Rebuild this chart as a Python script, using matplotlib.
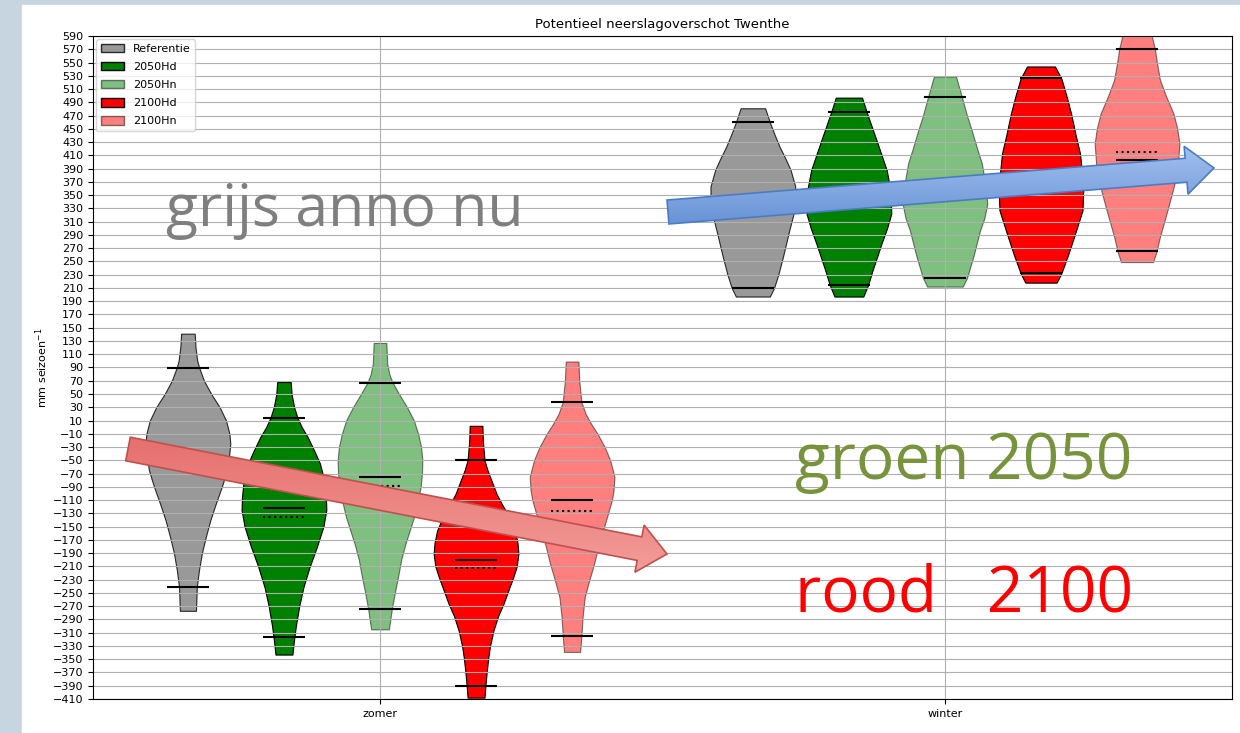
import numpy as np
import matplotlib
matplotlib.use('Agg')
import matplotlib.pyplot as plt
from matplotlib.patches import Patch, FancyArrow, Rectangle
from matplotlib.colors import LinearSegmentedColormap

seasons = ['zomer', 'winter']
scenarios = ['Referentie', '2050Hd', '2050Hn', '2100Hd', '2100Hn']
scenario_colors = ['grey', 'green', 'green', 'red', 'red']
scenario_alpha = [0.8, 1.0, 0.5, 1.0, 0.5]

# violin outlines: (mm per seizoen, relative width)
zomer_ref = [(141, .16), (120, .18), (100, .22), (89, .27), (70, .38), (50, .55), (30, .75),
             (10, .9), (-10, .98), (-25, 1.0), (-45, .97), (-65, .92), (-90, .8), (-115, .66),
             (-140, .53), (-166, .42), (-190, .33), (-216, .26), (-241, .21), (-277, .19)]
zomer_2050hd = [(68, .16), (50, .18), (30, .24), (14, .32), (0, .42), (-15, .56), (-35, .71),
                (-55, .85), (-80, .95), (-105, .99), (-125, 1.0), (-150, .93), (-180, .78),
                (-210, .61), (-241, .46), (-270, .36), (-300, .28), (-325, .23), (-343, .2)]
zomer_2050hn = [(127, .15), (96, .17), (80, .22), (67, .3), (50, .45), (30, .64), (10, .8),
                (-10, .9), (-30, .97), (-50, 1.0), (-70, .99), (-90, .96), (-115, .88),
                (-136, .8), (-156, .7), (-176, .6), (-200, .5), (-221, .44), (-250, .35),
                (-274, .28), (-305, .21)]
zomer_2100hd = [(2, .15), (-20, .16), (-50, .2), (-65, .27), (-80, .36), (-100, .48), (-115, .6),
                (-135, .78), (-156, .92), (-175, .98), (-191, 1.0), (-210, .96), (-226, .88),
                (-245, .77), (-266, .65), (-285, .52), (-307, .41), (-330, .33), (-347, .29),
                (-370, .25), (-391, .22), (-408, .2)]
zomer_2100hn = [(99, .15), (70, .17), (38, .22), (20, .32), (5, .45), (-10, .6), (-30, .77),
                (-50, .9), (-75, 1.0), (-95, .98), (-110, .94), (-130, .85), (-156, .73),
                (-180, .62), (-206, .52), (-230, .41), (-256, .3), (-285, .25), (-315, .22),
                (-339, .19)]

winter_ref = [(481, .29), (460, .4), (440, .52), (423, .63), (405, .77), (388, .89), (363, 1.0),
              (345, 1.0), (327, .98), (297, .86), (257, .71), (230, .6), (210, .5), (197, .4)]
winter_2050hd = [(497, .31), (475, .42), (433, .65), (388, .89), (358, .98), (322, 1.0),
                 (300, .9), (277, .77), (237, .56), (214, .45), (197, .34)]
winter_2050hn = [(529, .26), (498, .4), (470, .52), (448, .63), (420, .76), (398, .87),
                 (368, .95), (337, 1.0), (315, .93), (297, .83), (257, .67), (225, .52),
                 (212, .42)]
winter_2100hd = [(544, .33), (526, .48), (500, .6), (473, .71), (440, .82), (413, .92),
                 (363, 1.0), (327, .98), (287, .78), (260, .64), (232, .48), (218, .37)]
winter_2100hn = [(592, .34), (571, .42), (550, .47), (524, .54), (500, .68), (473, .86),
                 (450, .95), (428, 1.0), (383, .95), (332, .74), (287, .54), (265, .46),
                 (249, .38)]

# 5% / 95% lines, median (solid) and mean (dotted)
zomer_q_low = [-241, -317, -274, -391, -315]
zomer_q_high = [89, 14, 67, -50, 38]
zomer_median = [-48, -122, -75, -201, -110]
zomer_mean = [-62, -136, -88, -212, -126]
winter_q_low = [210, 214, 225, 232, 265]
winter_q_high = [460, 475, 498, 526, 571]
winter_median = [332, 342, 352, 370, 403]
winter_mean = [326, 336, 346, 362, 415]


def make_stats(profile, q_lo, q_hi, med, mean):
    prof = sorted(profile)
    coords = np.array([p[0] for p in prof], dtype=float)
    vals = np.array([p[1] for p in prof], dtype=float)
    return dict(coords=coords, vals=vals, mean=mean, median=med,
                min=coords[0], max=coords[-1], quantiles=[q_lo, q_hi])


profiles = [
    [zomer_ref, zomer_2050hd, zomer_2050hn, zomer_2100hd, zomer_2100hn],
    [winter_ref, winter_2050hd, winter_2050hn, winter_2100hd, winter_2100hn],
]
q_low = [zomer_q_low, winter_q_low]
q_high = [zomer_q_high, winter_q_high]
medians = [zomer_median, winter_median]
means = [zomer_mean, winter_mean]

stats, positions, colors, alphas = [], [], [], []
offset = 0.17
for s in range(len(seasons)):
    for k in range(len(scenarios)):
        stats.append(make_stats(profiles[s][k], q_low[s][k], q_high[s][k],
                                medians[s][k], means[s][k]))
        positions.append(s + (k - 2) * offset)
        colors.append(scenario_colors[k])
        alphas.append(scenario_alpha[k])

fig = plt.figure(figsize=(12.4, 7.33), dpi=100)

# slide background
bg = fig.add_axes([0, 0, 1, 1], zorder=0)
bg.set_xlim(0, 1240)
bg.set_ylim(733, 0)
bg.axis('off')
bg.add_patch(Rectangle((0, 0), 1240, 733, color='#c6d5e0'))
bg.add_patch(Rectangle((22, 5), 1218, 728, color='white'))

ax = fig.add_axes([0.075, 0.0464, 0.9185, 0.9045], zorder=1)
parts = ax.violin(stats, positions=positions, widths=0.15, showmeans=True,
                  showextrema=False, showmedians=True)
for body, c, a in zip(parts['bodies'], colors, alphas):
    body.set_facecolor(c)
    body.set_edgecolor('black')
    body.set_linewidth(0.8)
    body.set_alpha(a)
parts['cmedians'].set_color('black')
parts['cquantiles'].set_color('black')
parts['cmeans'].set_color('black')
parts['cmeans'].set_linestyle(':')

ax.set_xlim(-0.508, 1.508)
ax.set_ylim(-410, 590)
ax.set_xticks([0, 1])
ax.set_xticklabels(seasons)
ax.set_yticks(np.arange(-410, 591, 20))
ax.tick_params(labelsize=8)
ax.grid(True, color='#b0b0b0', linewidth=0.8)
ax.set_ylabel('mm seizoen$^{-1}$', fontsize=8, labelpad=2)
ax.set_title('Potentieel neerslagoverschot Twenthe', fontsize=9.5)

handles = [Patch(facecolor=c, edgecolor='black', alpha=a, label=l)
           for c, a, l in zip(scenario_colors, scenario_alpha, scenarios)]
ax.legend(handles=handles, loc='upper left', fontsize=8, labelspacing=0.72,
          handlelength=2.1, handleheight=0.8, borderaxespad=0.3)

# annotations on top of the chart
ov = fig.add_axes([0, 0, 1, 1], zorder=3)
ov.patch.set_alpha(0)


def gradient_arrow(axo, tail, tip, top_color, bottom_color, edge):
    arr = FancyArrow(tail[0], tail[1], tip[0] - tail[0], tip[1] - tail[1], width=24,
                     head_width=48, head_length=28, length_includes_head=True,
                     facecolor='none', edgecolor=edge, linewidth=1.2, zorder=5)
    axo.add_patch(arr)
    cmap = LinearSegmentedColormap.from_list('fill', [top_color, bottom_color])
    grad = np.linspace(0, 1, 64).reshape(-1, 1)
    x0, x1 = min(tail[0], tip[0]) - 30, max(tail[0], tip[0]) + 30
    y0, y1 = min(tail[1], tip[1]) - 30, max(tail[1], tip[1]) + 30
    im = axo.imshow(grad, cmap=cmap, extent=(x0, x1, y1, y0), aspect='auto', zorder=4)
    im.set_clip_path(arr)


gradient_arrow(ov, (128, 449), (667, 554), '#e46a68', '#f4a09d', '#c0504d')
gradient_arrow(ov, (668, 212), (1214, 168), '#a9c4ef', '#5b89d3', '#4a7cc4')

ov.text(166, 226, 'grijs anno nu', fontsize=42.5, color='#7f7f7f', family='Open Sans',
        ha='left', va='baseline')
ov.text(795, 479, 'groen 2050', fontsize=46, color='#77933c', family='Open Sans',
        ha='left', va='baseline')
ov.text(795, 612, 'rood   2100', fontsize=46, color='#ff0000', family='Open Sans',
        ha='left', va='baseline')

ov.set_xlim(0, 1240)
ov.set_ylim(733, 0)
ov.axis('off')

fig.savefig('out.png', dpi=100)
